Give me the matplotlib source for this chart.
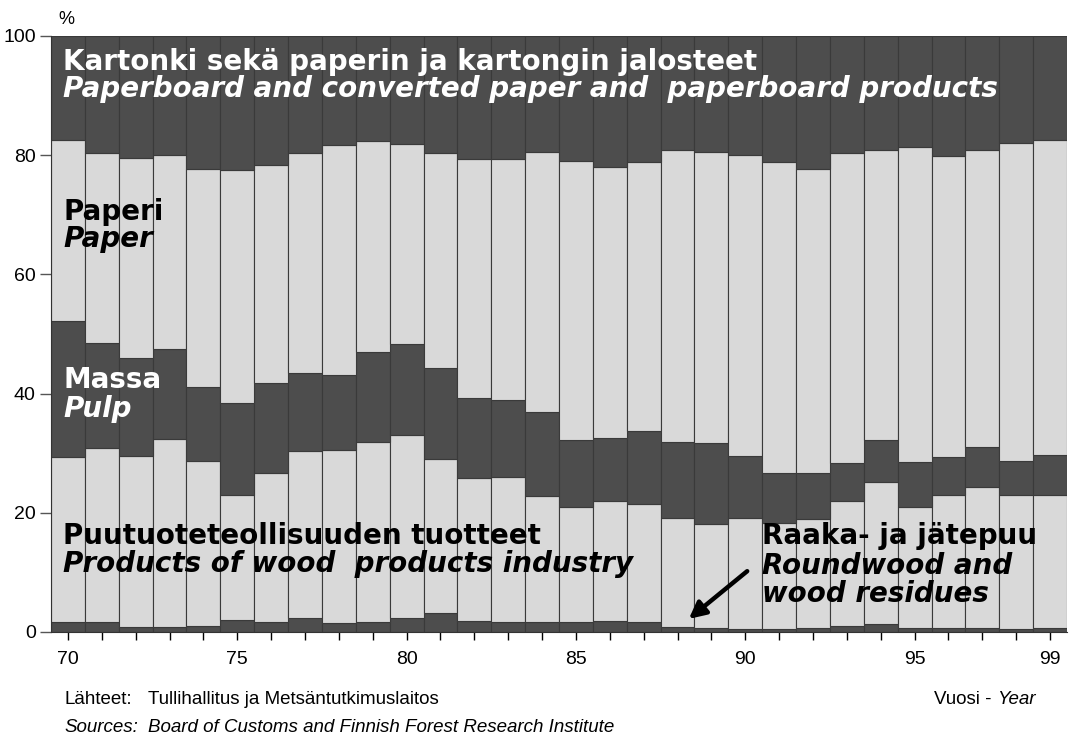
import matplotlib
matplotlib.use("Agg")
import matplotlib.pyplot as plt
import numpy as np

years = list(range(1970, 2000))
year_labels = {1970: "70", 1975: "75", 1980: "80", 1985: "85", 1990: "90", 1995: "95", 1999: "99"}

roundwood = [1.6, 1.6, 0.9, 0.8, 1.0, 2.0, 1.6, 2.3, 1.5, 1.6, 2.3, 3.2, 1.8, 1.6, 1.6,
             1.7, 1.8, 1.6, 0.8, 0.6, 0.5, 0.5, 0.6, 1.0, 1.3, 0.6, 0.6, 0.6, 0.5, 0.6]
wood_products = [27.7, 29.2, 28.7, 31.5, 27.7, 21.0, 25.0, 28.1, 29.1, 30.3, 30.8, 25.8, 24.1, 24.4, 21.3,
                 19.2, 20.1, 19.9, 18.3, 17.5, 18.6, 17.8, 18.3, 21.0, 23.8, 20.3, 22.4, 23.7, 22.5, 22.4]
pulp = [22.9, 17.7, 16.4, 15.2, 12.4, 15.4, 15.1, 13.1, 12.6, 15.1, 15.3, 15.3, 13.4, 13.0, 14.0,
        11.3, 10.7, 12.2, 12.8, 13.6, 10.4, 8.3, 7.7, 6.4, 7.1, 7.7, 6.3, 6.8, 5.7, 6.7]
paper = [30.3, 31.8, 33.5, 32.6, 36.6, 39.2, 36.7, 36.8, 38.5, 35.4, 33.4, 36.0, 40.0, 40.3, 43.7,
         46.9, 45.4, 45.2, 48.9, 48.9, 50.6, 52.3, 51.1, 51.9, 48.7, 52.7, 50.6, 49.7, 53.4, 52.9]
paperboard = [17.5, 19.7, 20.5, 19.9, 22.3, 22.4, 21.6, 19.7, 18.3, 17.6, 18.2, 19.7, 20.7, 20.7, 19.4,
              20.9, 22.0, 21.1, 19.2, 19.4, 19.9, 21.1, 22.3, 19.7, 19.1, 18.7, 20.1, 19.2, 17.9, 17.4]

DARK = "#4d4d4d"
LIGHT = "#d9d9d9"
EDGE = "#3a3a3a"

series = [roundwood, wood_products, pulp, paper, paperboard]
colors = [DARK, LIGHT, DARK, LIGHT, DARK]

W, H = 1069, 738
fig = plt.figure(figsize=(W / 100, H / 100), dpi=100)
ax = fig.add_axes([51 / W, 1 - 632 / H, (1067 - 51) / W, (632 - 36) / H])

x = np.arange(len(years))
bottom = np.zeros(len(years))
for vals, c in zip(series, colors):
    v = np.array(vals)
    ax.bar(x, v, width=1.0, bottom=bottom, color=c, edgecolor=EDGE, linewidth=0.8)
    bottom += v

ax.set_xlim(-0.5, len(years) - 0.5)
ax.set_ylim(0, 100)

narrow = ["Liberation Sans Narrow", "Liberation Sans", "DejaVu Sans"]

ax.set_xticks(x)
ax.set_xticklabels([year_labels.get(y, "") for y in years], fontsize=14, family=narrow)
ax.set_yticks([0, 20, 40, 60, 80, 100])
ax.set_yticklabels(["0", "20", "40", "60", "80", "100"], fontsize=14, family=narrow)
ax.tick_params(axis="x", direction="out", length=6, width=1, pad=8, color="black")
ax.tick_params(axis="y", direction="out", length=8, width=1, pad=3, color="#555555")
for s in ["top", "right"]:
    ax.spines[s].set_visible(False)
ax.spines["left"].set_color("#333333")
ax.spines["bottom"].set_color("#333333")


def px(xp, yp):
    return (xp / W, 1 - yp / H)


heavy = dict(family="DejaVu Sans", fontweight="bold", fontsize=20)

fig.text(*px(58, 20), "%", fontsize=13, family=narrow, va="center")

fig.text(*px(63, 62), "Kartonki sekä paperin ja kartongin jalosteet", color="white", va="center", **heavy)
fig.text(*px(63, 89), "Paperboard and converted paper and  paperboard products", color="white",
         va="center", style="italic", **heavy)

fig.text(*px(63, 212), "Paperi", color="black", va="center", **heavy)
fig.text(*px(63, 239), "Paper", color="black", va="center", style="italic", **heavy)

fig.text(*px(63, 380), "Massa", color="white", va="center", **heavy)
fig.text(*px(63, 409), "Pulp", color="white", va="center", style="italic", **heavy)

fig.text(*px(63, 536), "Puutuoteteollisuuden tuotteet", color="black", va="center", **heavy)
fig.text(*px(63, 564), "Products of wood  products industry", color="black", va="center", style="italic", **heavy)

fig.text(*px(762, 536), "Raaka- ja jätepuu", color="black", va="center", **heavy)
fig.text(*px(762, 566), "Roundwood and", color="black", va="center", style="italic", **heavy)
fig.text(*px(762, 594), "wood residues", color="black", va="center", style="italic", **heavy)

ax.annotate("", xy=(18.27, 1.9), xytext=(20.12, 10.5),
            arrowprops=dict(arrowstyle="-|>,head_length=1.0,head_width=0.5", color="black", lw=3.2))

small = dict(fontsize=13.5, family=narrow, va="center")
fig.text(*px(64, 700), "Lähteet:", **small)
fig.text(*px(148, 700), "Tullihallitus ja Metsäntutkimuslaitos", **small)
fig.text(*px(64, 727), "Sources:", style="italic", **small)
fig.text(*px(148, 727), "Board of Customs and Finnish Forest Research Institute", style="italic", **small)
fig.text(*px(997, 700), "Vuosi - ", ha="right", **small)
fig.text(*px(997, 700), "Year", ha="left", style="italic", **small)

fig.savefig("out.png", dpi=100)
